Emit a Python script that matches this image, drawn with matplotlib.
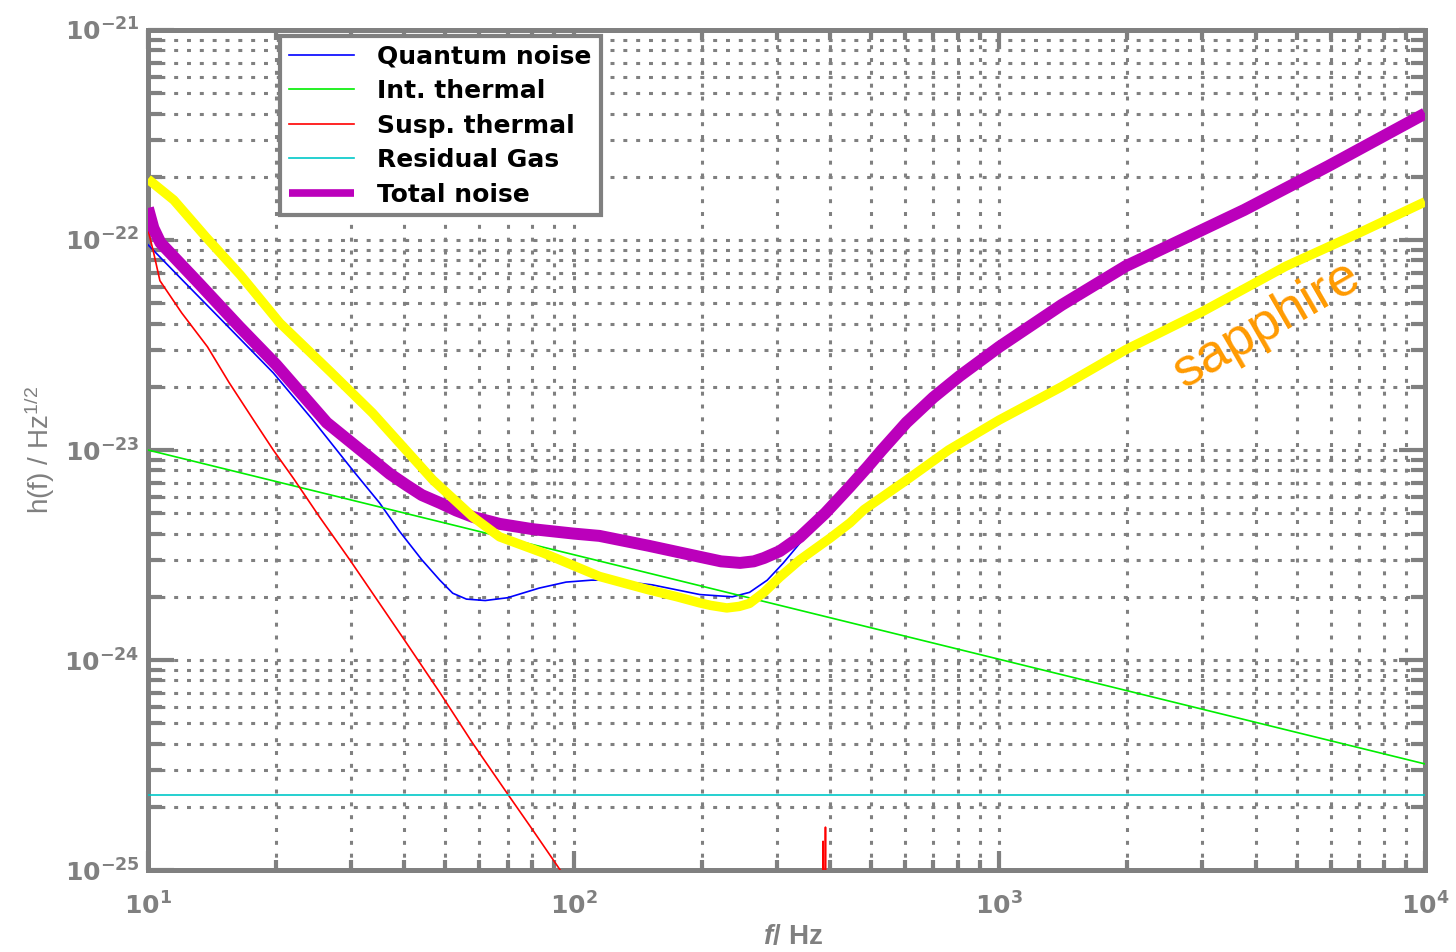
import numpy as np
import matplotlib
matplotlib.use("Agg")
import matplotlib.pyplot as plt
from matplotlib.ticker import FixedLocator, FuncFormatter, NullFormatter

plt.rcParams['font.family'] = ['Liberation Sans', 'DejaVu Sans']
plt.rcParams['mathtext.fontset'] = 'custom'
plt.rcParams['mathtext.rm'] = 'Liberation Sans:bold'
plt.rcParams['mathtext.bf'] = 'DejaVu Sans:bold'
plt.rcParams['mathtext.it'] = 'Liberation Sans:italic:bold'
plt.rcParams['mathtext.sf'] = 'Liberation Sans'

# ---------------- data ----------------
f_quantum = [10, 12, 15, 19.7, 24.4, 30.3, 35, 39, 44, 48.5, 52, 56, 62, 70, 83, 96, 110,
             123, 153, 198, 236, 259, 285, 311, 340, 372, 446, 530, 605, 807, 1000, 1400,
             1980, 2700, 3760, 5930, 10000]
h_quantum = [9.5e-23, 6.5e-23, 4.1e-23, 2.33e-23, 1.39e-23, 8.0e-24, 5.6e-24, 4.1e-24, 3.0e-24,
             2.4e-24, 2.08e-24, 1.95e-24, 1.92e-24, 1.98e-24, 2.2e-24, 2.35e-24, 2.4e-24,
             2.4e-24, 2.28e-24, 2.05e-24, 2.0e-24, 2.1e-24, 2.4e-24, 2.9e-24, 3.6e-24, 4.5e-24,
             6.4e-24, 9.8e-24, 1.33e-23, 2.2e-23, 3.07e-23, 4.87e-23, 7.45e-23, 1.0e-22,
             1.38e-22, 2.23e-22, 3.98e-22]

f_int = [10, 10000]
h_int = [1.0e-23, 3.2e-25]

f_susp = [10, 10.3, 10.67, 12, 13.8, 15.5, 17.7, 19.7, 22, 25.3, 29.8, 35, 40, 48.5, 58,
          69.7, 80, 93, 100, 150, 250, 383.5, 385.5, 387.5, 390.5, 392.5, 600, 1000]
h_susp = [1.12e-22, 8.8e-23, 6.4e-23, 4.5e-23, 3.1e-23, 2.1e-23, 1.39e-23, 1.0e-23, 7.3e-24,
          4.8e-24, 3.0e-24, 1.86e-24, 1.25e-24, 7.0e-25, 4.0e-25, 2.33e-25, 1.56e-25, 1.0e-25,
          8.0e-26, 2.4e-26, 5e-27, 2e-27, 1.37e-25, 3e-27, 1.6e-25, 2e-27, 6e-28, 1e-28]

f_gas = [10, 10000]
h_gas = [2.27e-25, 2.27e-25]

f_total = [10, 10.3, 10.7, 13, 16.4, 20, 26.3, 33, 37, 40.5, 44, 48.5, 53, 58, 67, 80, 100,
           115, 150, 198, 222, 246, 265, 280, 305, 340, 390, 446, 490, 530, 605, 700, 807,
           1000, 1400, 1980, 2700, 3760, 5930, 10000]
h_total = [1.42e-22, 1.14e-22, 9.7e-23, 6.4e-23, 3.86e-23, 2.55e-23, 1.35e-23, 9.3e-24,
           7.7e-24, 6.8e-24, 6.1e-24, 5.6e-24, 5.15e-24, 4.8e-24, 4.45e-24, 4.2e-24, 4.0e-24,
           3.9e-24, 3.5e-24, 3.1e-24, 2.95e-24, 2.9e-24, 2.95e-24, 3.06e-24, 3.3e-24, 3.85e-24,
           5.0e-24, 6.7e-24, 8.3e-24, 1.0e-23, 1.35e-23, 1.78e-23, 2.25e-23, 3.1e-23, 4.9e-23,
           7.5e-23, 1.01e-22, 1.39e-22, 2.25e-22, 4.0e-22]

f_sapph = [10, 11.5, 13.7, 16.5, 20.4, 27, 33.7, 46.7, 58, 67, 85, 115, 150, 175, 198, 210,
           229, 245, 259, 280, 305, 340, 400, 446, 481, 600, 760, 1000, 1400, 1980, 3000,
           4710, 7000, 10000]
h_sapph = [1.95e-22, 1.55e-22, 1.03e-22, 6.8e-23, 4.03e-23, 2.33e-23, 1.5e-23, 7.2e-24,
           4.8e-24, 3.86e-24, 3.23e-24, 2.5e-24, 2.16e-24, 2.0e-24, 1.87e-24, 1.82e-24,
           1.77e-24, 1.8e-24, 1.86e-24, 2.1e-24, 2.48e-24, 3.0e-24, 3.8e-24, 4.5e-24, 5.2e-24,
           7.1e-24, 1.0e-23, 1.39e-23, 2.0e-23, 3.0e-23, 4.56e-23, 7.5e-23, 1.08e-22,
           1.52e-22]

labels = ['Quantum noise', 'Int. thermal', 'Susp. thermal', 'Residual Gas', 'Total noise']
x_major = [1e1, 1e2, 1e3, 1e4]
y_major = [1e-25, 1e-24, 1e-23, 1e-22, 1e-21]
x_limits = (10, 1e4)
y_limits = (1e-25, 1e-21)

GRAY = '#808080'

# ---------------- figure ----------------
fig = plt.figure(figsize=(14.56, 9.52), dpi=100)
ax = fig.add_axes([0.1016, 0.0861, 0.8771, 0.8824])
ax.set_xscale('log')
ax.set_yscale('log')

ax.plot(f_quantum, h_quantum, color='#0000FF', lw=1.2, label=labels[0], zorder=3)
ax.plot(f_int, h_int, color='#00EE00', lw=1.2, label=labels[1], zorder=3)
ax.plot(f_susp, h_susp, color='#FF0000', lw=1.2, label=labels[2], zorder=3)
ax.plot(f_gas, h_gas, color='#00C8C8', lw=1.2, label=labels[3], zorder=3)
ax.plot(f_total, h_total, color='#BB00BB', lw=8.6, label=labels[4], zorder=4,
        solid_capstyle='butt', solid_joinstyle='round')
ax.plot(f_sapph, h_sapph, color='#FFFF00', lw=6.8, zorder=5,
        solid_capstyle='butt', solid_joinstyle='round')

ax.set_xlim(*x_limits)
ax.set_ylim(*y_limits)

# ticks (only inside the view)
x_minor = [m * d for d in x_major[:-1] for m in range(2, 10)]
y_minor = [m * d for d in y_major[:-1] for m in range(2, 10)]
ax.xaxis.set_major_locator(FixedLocator(x_major))
ax.yaxis.set_major_locator(FixedLocator(y_major))
ax.xaxis.set_minor_locator(FixedLocator(x_minor))
ax.yaxis.set_minor_locator(FixedLocator(y_minor))
fmt = FuncFormatter(lambda v, p: r'$\mathbf{10^{%d}}$' % int(round(np.log10(v))))
ax.xaxis.set_major_formatter(fmt)
ax.yaxis.set_major_formatter(fmt)
ax.xaxis.set_minor_formatter(NullFormatter())
ax.yaxis.set_minor_formatter(NullFormatter())

ax.tick_params(which='both', direction='in', top=True, right=True, color=GRAY,
               width=3, labelcolor=GRAY, labelsize=18)
ax.tick_params(axis='y', which='major', length=19, pad=6)
ax.tick_params(axis='y', which='minor', length=10)
ax.tick_params(axis='x', which='major', length=14, pad=16)
ax.tick_params(axis='x', which='minor', length=7)

for s in ax.spines.values():
    s.set_color(GRAY)
    s.set_linewidth(3.6)

ax.set_axisbelow(True)
ax.grid(True, which='both', color=GRAY, linestyle=(0, (1.3, 2.9)), linewidth=2.2)

# labels
fig.text(40 / 1456, 1 - 450 / 952, r'$\mathsf{h(f)\ /\ Hz}^{\mathsf{1/2}}$', rotation=90,
         ha='center', va='center', color=GRAY, fontsize=20)
fig.text(793 / 1456, 1 - 937 / 952, r'$\mathit{f}$' + r'$\mathrm{/\ Hz}$',
         ha='center', va='center', color=GRAY, fontsize=20)

ax.text(4255, 3.94e-23, 'sapphire', rotation=30, rotation_mode='anchor',
        ha='center', va='center', color='#FF9A00', fontsize=39, zorder=6)

leg = ax.legend(loc='upper left', bbox_to_anchor=(0.1034, 0.9929), fancybox=False,
                framealpha=1, edgecolor=GRAY,
                prop={'family': 'DejaVu Sans', 'weight': 'bold', 'size': 18},
                handlelength=2.6, handletextpad=0.95, labelspacing=0.42, borderpad=0.35,
                borderaxespad=0)
leg.get_frame().set_linewidth(3)
leg.get_lines()[4].set_linewidth(5.5)
leg.set_zorder(10)

fig.savefig('out.png', dpi=100)
